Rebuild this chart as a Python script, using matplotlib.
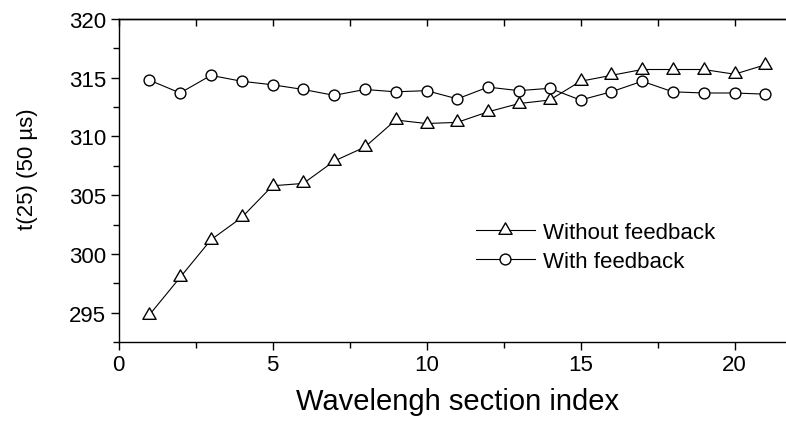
import numpy as np
import matplotlib
matplotlib.use('Agg')
import matplotlib.pyplot as plt
from matplotlib.path import Path
from matplotlib.ticker import MultipleLocator

plt.rcParams['font.family'] = ['Liberation Sans', 'DejaVu Sans']

# data
section_index = np.arange(1, 22)
without_feedback = [294.8, 298.0, 301.2, 303.1, 305.8, 306.0, 307.9, 309.1, 311.4, 311.1,
                    311.2, 312.1, 312.8, 313.1, 314.7, 315.2, 315.7, 315.7, 315.7, 315.3, 316.1]
with_feedback = [314.8, 313.7, 315.2, 314.7, 314.4, 314.0, 313.5, 314.0, 313.8, 313.9,
                 313.2, 314.2, 313.9, 314.1, 313.1, 313.8, 314.7, 313.8, 313.7, 313.7, 313.6]

fig = plt.figure(figsize=(7.86, 4.27), dpi=100)
W, H = 786, 427
ax = fig.add_axes([118.5 / W, 1 - 343 / H, 677.6 / W, 323 / H])

# equilateral open triangle like the original software uses
tri = Path([(0, 1), (-0.866, -0.5), (0.866, -0.5), (0, 1)], closed=True)
ax.plot(section_index, without_feedback, color='black', lw=0.8, marker=tri,
        ms=11, mfc='white', mec='black', mew=1.0, label='Without feedback')
ax.plot(section_index, with_feedback, color='black', lw=0.8, marker='o',
        ms=7.8, mfc='white', mec='black', mew=1.0, label='With feedback')

ax.set_xlim(0, 22)
ax.set_ylim(292.5, 320)
ax.xaxis.set_major_locator(MultipleLocator(5))
ax.xaxis.set_minor_locator(MultipleLocator(2.5))
ax.yaxis.set_major_locator(MultipleLocator(5))
ax.yaxis.set_minor_locator(MultipleLocator(2.5))

ax.tick_params(which='both', direction='out', width=1.0, labelsize=16,
               top=False, right=False)
ax.tick_params(which='major', length=6, pad=3)
ax.tick_params(which='minor', length=4)
for sp in ax.spines.values():
    sp.set_linewidth(1.0)

# inward ticks along the top spine
top = ax.secondary_xaxis('top')
top.set_xticks(np.arange(0, 22.1, 2.5))
top.tick_params(direction='in', length=5, width=1.0, labeltop=False)
top.spines['top'].set_linewidth(1.0)

ax.set_xlabel('Wavelengh section index', fontsize=21, labelpad=8)
ax.set_ylabel('t(25) (50 µs)', fontsize=16)
ax.yaxis.set_label_coords(-(118.5 - 38) / 677.6, (343 - 169) / 323)

leg = ax.legend(loc='upper left', bbox_to_anchor=((476 - 118.5) / 677.6, (343 - 223) / 323),
                frameon=False, fontsize=16, handlelength=2.65, handletextpad=0.35,
                labelspacing=0.35, borderpad=0, borderaxespad=0)

fig.savefig('out.png', dpi=100)
